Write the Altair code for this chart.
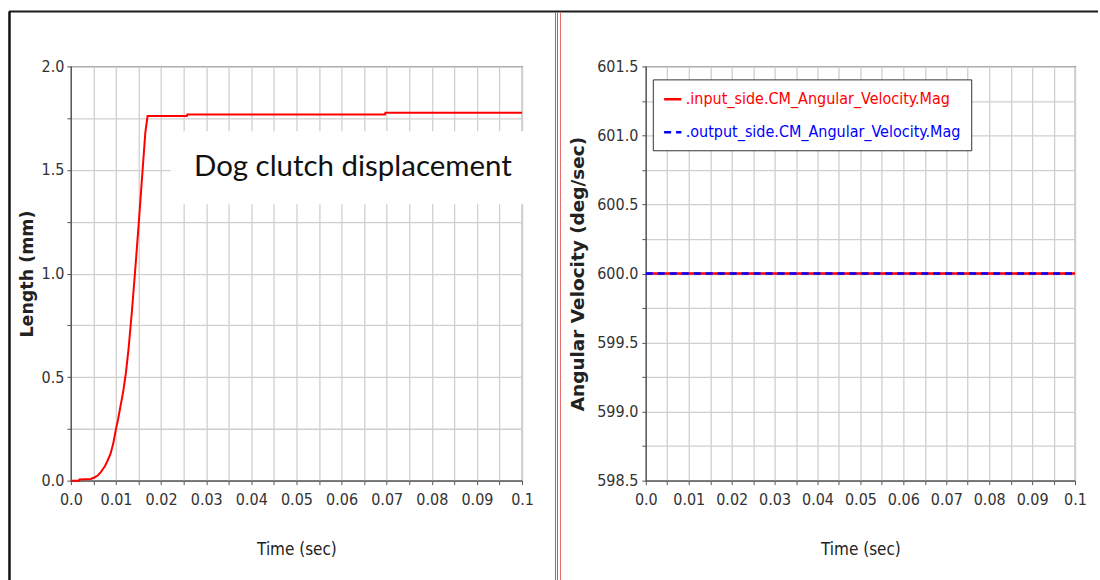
import altair as alt
import pandas as pd

# ---------------- data ----------------
# Left panel: dog clutch displacement (mm) vs time (sec)
left_t = [0.0, 0.0018, 0.0019, 0.0044, 0.0052, 0.0060, 0.0066, 0.0075, 0.0081,
          0.0088, 0.0094, 0.0100, 0.0105, 0.0110, 0.0116, 0.0122, 0.0128,
          0.0135, 0.0142, 0.0150, 0.0159, 0.0165, 0.0170,
          0.0257, 0.0258, 0.0696, 0.0697, 0.1000]
left_v = [0.0, 0.0, 0.006, 0.008, 0.015, 0.026, 0.040, 0.068, 0.095,
          0.13, 0.18, 0.25, 0.30, 0.36, 0.43, 0.52, 0.64,
          0.81, 1.00, 1.23, 1.50, 1.68, 1.76,
          1.76, 1.768, 1.768, 1.776, 1.776]

# Right panel: angular velocities (deg/sec)
series_names = [".input_side.CM_Angular_Velocity.Mag", ".output_side.CM_Angular_Velocity.Mag"]
series_colors = ["#ff0000", "#0000ff"]
series_dash = [[1, 0], [7, 5]]
right_t = [0.0, 0.1]
input_v = [600.0, 600.0]
output_v = [600.0, 600.0]

# ticks
x_ticks = [0.0, 0.005, 0.01, 0.015, 0.02, 0.025, 0.03, 0.035, 0.04, 0.045, 0.05,
           0.055, 0.06, 0.065, 0.07, 0.075, 0.08, 0.085, 0.09, 0.095, 0.1]
y_ticks_left = [0.0, 0.25, 0.5, 0.75, 1.0, 1.25, 1.5, 1.75, 2.0]
y_ticks_right = [598.5, 598.75, 599.0, 599.25, 599.5, 599.75, 600.0, 600.25,
                 600.5, 600.75, 601.0, 601.25, 601.5]

annotation_text = "Dog clutch displacement"

# ---------------- frames ----------------
left_df = pd.DataFrame({"t": left_t, "v": left_v})
right_df = pd.DataFrame({
    "t": right_t + right_t,
    "v": input_v + output_v,
    "series": [series_names[0]] * len(right_t) + [series_names[1]] * len(right_t),
})
one = pd.DataFrame({"a": [0]})

NARROW = "Liberation Sans Narrow, Arial Narrow, DejaVu Sans Condensed, sans-serif"
TITLE_FONT = "DejaVu Sans"
LBL = 16

x_label_expr = ("(round(datum.value*1000) % 10 == 0) ? "
                "(datum.value == 0 ? '0.0' : format(datum.value, '.2~f')) : ''")
y_label_expr = "(round(datum.value*4) % 2 == 0) ? format(datum.value, '.1f') : ''"

PW_L, PW_R, PH = 452, 430, 415
GAP = 124


def x_axis():
    return alt.Axis(values=x_ticks, labelExpr=x_label_expr, title="Time (sec)",
                    labelOverlap=False, labelFlush=False, labelFont=NARROW,
                    labelFontSize=LBL, labelColor="#333", labelPadding=7,
                    titleFont=NARROW, titleFontSize=17, titleFontWeight="normal",
                    titleColor="#222", titleY=69, titleBaseline="middle")


x_enc = alt.X("t:Q", scale=alt.Scale(domain=[0, 0.1], nice=False, zero=False), axis=x_axis())

# ---------------- left chart ----------------
left_line = alt.Chart(left_df).mark_line(color="#ff0000", strokeWidth=2).encode(
    x=x_enc,
    y=alt.Y("v:Q", scale=alt.Scale(domain=[0, 2], nice=False),
            axis=alt.Axis(values=y_ticks_left, labelExpr=y_label_expr, title="Length (mm)",
                          labelOverlap=False, labelFlush=False, labelFont=NARROW,
                          labelFontSize=LBL, labelColor="#333", labelPadding=3,
                          titleFont=TITLE_FONT, titleFontSize=17.5, titleFontWeight="bold",
                          titleColor="#222", titleX=-43, titleBaseline="middle")),
)

white_box = alt.Chart(one).mark_rect(color="white").encode(
    x=alt.value(100), x2=alt.value(460), y=alt.value(65), y2=alt.value(138))
annot = alt.Chart(one).mark_text(font="Lato", fontSize=29.5, color="#111",
                                 align="center", baseline="alphabetic").encode(
    x=alt.value(282.5), y=alt.value(110), text=alt.value(annotation_text))

frame_top = alt.Chart(one).mark_rule(color="#1a1a1a", strokeWidth=2).encode(
    x=alt.value(-62), x2=alt.value(1029), y=alt.value(-55))
frame_left = alt.Chart(one).mark_rule(color="#111", strokeWidth=2.5).encode(
    x=alt.value(-61.5), y=alt.value(-55), y2=alt.value(515))
sep1 = alt.Chart(one).mark_rule(color="#777", strokeWidth=1).encode(
    x=alt.value(485.5), y=alt.value(-54), y2=alt.value(515))
sep2 = alt.Chart(one).mark_rule(color="#777", strokeWidth=1).encode(
    x=alt.value(487.5), y=alt.value(-54), y2=alt.value(515))
sep3 = alt.Chart(one).mark_rule(color="#e86a6a", strokeWidth=1).encode(
    x=alt.value(490.5), y=alt.value(-54), y2=alt.value(515))

left = alt.layer(left_line, white_box, annot, frame_top, frame_left, sep1, sep2, sep3).properties(
    width=PW_L, height=PH)

# ---------------- right chart ----------------
legend = alt.Legend(orient="none", legendX=PW_L + GAP + 7, legendY=13, direction="vertical",
                    fillColor="white", strokeColor="#333", padding=10, title=None,
                    labelFont=NARROW, labelFontSize=LBL, labelLimit=600, labelOffset=3,
                    labelColor=alt.ExprRef(expr=f"datum.value == '{series_names[0]}' ? '{series_colors[0]}' : '{series_colors[1]}'"),
                    symbolType="stroke", symbolSize=300, symbolStrokeWidth=2.5,
                    rowPadding=15)

color_enc = alt.Color("series:N", scale=alt.Scale(domain=series_names, range=series_colors),
                      legend=legend)
dash_enc = alt.StrokeDash("series:N", scale=alt.Scale(domain=series_names, range=series_dash),
                          legend=legend)

y_right = alt.Y("v:Q", scale=alt.Scale(domain=[598.5, 601.5], nice=False, zero=False),
                axis=alt.Axis(values=y_ticks_right, labelExpr=y_label_expr,
                              title="Angular Velocity (deg/sec)",
                              labelOverlap=False, labelFlush=False, labelFont=NARROW,
                              labelFontSize=LBL, labelColor="#333", labelPadding=4,
                              titleFont=TITLE_FONT, titleFontSize=18.5, titleFontWeight="bold",
                              titleColor="#222", titleX=-68, titleBaseline="middle"))

r_in = alt.Chart(right_df).transform_filter(
    alt.datum.series == series_names[0]).mark_line(strokeWidth=2.5).encode(
    x=x_enc, y=y_right, color=color_enc, strokeDash=dash_enc)
r_out = alt.Chart(right_df).transform_filter(
    alt.datum.series == series_names[1]).mark_line(strokeWidth=2.5).encode(
    x=x_enc, y=y_right, color=color_enc, strokeDash=dash_enc)

right = alt.layer(r_in, r_out).properties(width=PW_R, height=PH)

chart = alt.hconcat(left, right, spacing=GAP, bounds="flush").properties(
    padding={"left": 7, "top": 9, "right": 0, "bottom": 0},
    background="white",
).configure_view(
    stroke="#555", strokeWidth=1.2
).configure_axis(
    domainColor="#555", domainWidth=1.2, tickColor="#555", tickSize=4,
    gridColor="#cfcfcf", gridWidth=1.3
)

chart.save("out.html", embed_options={"renderer": "svg", "actions": False})
